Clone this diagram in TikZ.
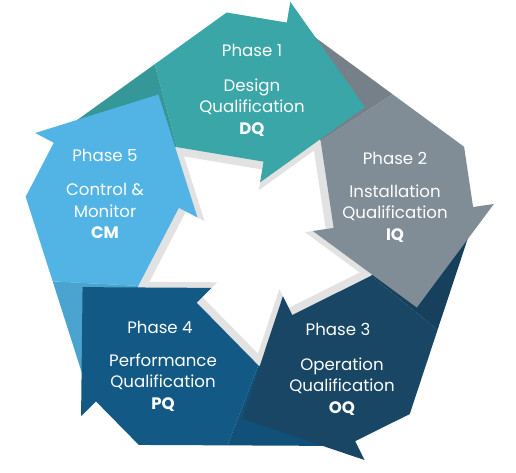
\documentclass[tikz,border=0pt]{standalone}
\usepackage{fontspec}
\setmainfont{Poppins}
\usetikzlibrary{positioning}

\definecolor{dqblue}{RGB}{58,166,167}
\definecolor{iqgray}{RGB}{128,141,150}
\definecolor{oqnavy}{RGB}{24,70,100}
\definecolor{pqblue}{RGB}{19,89,133}
\definecolor{cmblue}{RGB}{82,180,228}
\definecolor{dropshade}{RGB}{226,226,226}

\tikzset{
  phase/.style={text=white, inner sep=0pt, font=\fontsize{16.6}{21.5}\selectfont},
  stage/.style={phase, align=center},
}

% one arrow of the ring, drawn for phase 1 and turned for the others
\newcommand{\arrowbody}{(-126.5,160) -- (-64,223) -- (-3,223) -- (-3,244) -- (88,152.5) -- (-3,61) -- (-3,82) -- (-91,82) -- cycle}
\newcommand{\arrowtail}{(-126.5,160) -- (-200,86) -- (-137,71) -- (-91,82) -- cycle}

\begin{document}
\begin{tikzpicture}[x=1pt, y=1pt]
\useasboundingbox (-253,-229) rectangle (263,243);
\foreach \k in {1,...,5}
  \fill[dropshade, rotate=-9.5-72*(\k-1), yshift=-8] \arrowbody;
\foreach \k/\c in {1/dqblue, 2/iqgray, 3/oqnavy, 4/pqblue, 5/cmblue}
  \fill[\c!91!black, rotate=-9.5-72*(\k-1)] \arrowtail;
\foreach \k/\c in {1/dqblue, 2/iqgray, 3/oqnavy, 4/pqblue, 5/cmblue}
  \fill[\c, rotate=-9.5-72*(\k-1)] \arrowbody;

\node[phase] (ph1) at (-1,193) {Phase 1};
\node[stage, below=22pt of ph1] (dq) {Design\\Qualification\\\textbf{DQ}};
\node[phase] (ph2) at (142,85) {Phase 2};
\node[stage, below=20pt of ph2] (iq) {Installation\\Qualification\\\textbf{IQ}};
\node[phase] (ph3) at (85,-86) {Phase 3};
\node[stage, below=22pt of ph3, xshift=4pt] (oq) {Operation\\Qualification\\\textbf{OQ}};
\node[phase] (ph4) at (-93,-84) {Phase 4};
\node[stage, below=20pt of ph4, xshift=3pt] (pq) {Performance\\Qualification\\\textbf{PQ}};
\node[phase] (ph5) at (-148,88) {Phase 5};
\node[stage, below=22pt of ph5] (cm) {Control \&\\Monitor\\\textbf{CM}};
\end{tikzpicture}
\end{document}
